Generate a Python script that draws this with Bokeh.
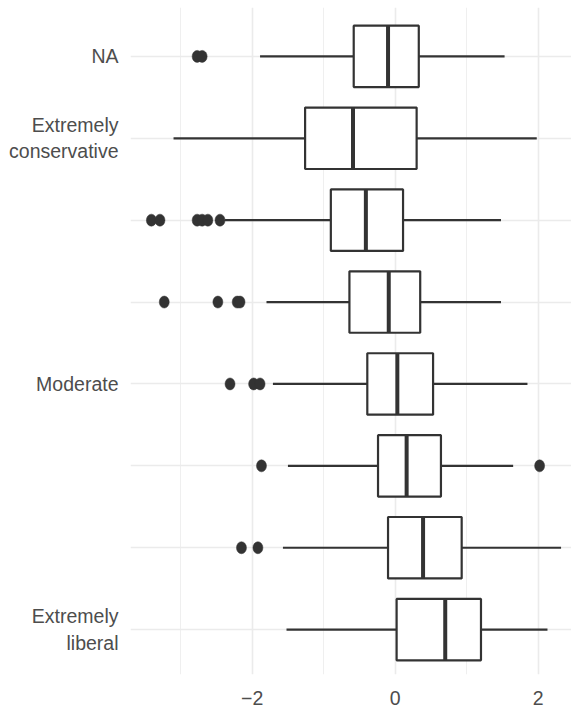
from bokeh.plotting import figure
from bokeh.models import FixedTicker, ColumnDataSource, Range1d
from bokeh.embed import file_html
from bokeh.resources import INLINE

# ---- data (bottom to top) ----
categories = ["Extremely liberal", "Liberal", "Slightly liberal", "Moderate",
              "Slightly conservative", "Conservative", "Extremely conservative", "NA"]
y_tick_labels = ["Extremely\nliberal", "", "", "Moderate", "", "", "Extremely\nconservative", "NA"]
whisker_low = [-1.52, -1.57, -1.50, -1.71, -1.80, -2.38, -3.10, -1.89]
q1 = [0.02, -0.10, -0.24, -0.39, -0.64, -0.90, -1.26, -0.58]
median = [0.70, 0.39, 0.16, 0.03, -0.09, -0.41, -0.59, -0.10]
q3 = [1.20, 0.93, 0.64, 0.53, 0.35, 0.11, 0.30, 0.33]
whisker_high = [2.13, 2.32, 1.65, 1.85, 1.48, 1.48, 1.98, 1.53]
outliers = [
    [],
    [-2.15, -1.92],
    [-1.87, 2.02],
    [-2.31, -1.98, -1.89],
    [-3.23, -2.48, -2.21, -2.17],
    [-3.41, -3.29, -2.77, -2.70, -2.62, -2.45],
    [],
    [-2.77, -2.70],
]
x_ticks = [-2, 0, 2]
x_tick_labels = ["\u22122", "0", "2"]
x_minor = [-3, -1, 1]

ypos = list(range(1, len(categories) + 1))
half = 0.375

p = figure(width=571, height=707, output_backend="svg", toolbar_location=None,
           x_range=Range1d(-3.702, 2.466), y_range=Range1d(0.452, 8.597),
           min_border_left=130, min_border_right=0, min_border_top=7, min_border_bottom=31)
p.outline_line_color = None
p.background_fill_color = "white"
p.border_fill_color = "white"

# axes
for ax in (p.xaxis[0], p.yaxis[0]):
    ax.axis_line_color = None
    ax.major_tick_line_color = None
    ax.minor_tick_line_color = None
    ax.major_tick_out = 0
    ax.major_tick_in = 0
    ax.minor_tick_out = 0
    ax.minor_tick_in = 0
    ax.major_label_text_color = "#4D4D4D"
    ax.major_label_text_font = "Liberation Sans"
    ax.major_label_text_font_size = "19.5px"

p.xaxis.ticker = FixedTicker(ticks=x_ticks, minor_ticks=x_minor)
p.xaxis.major_label_overrides = {t: l for t, l in zip(x_ticks, x_tick_labels)}
p.xaxis.major_label_standoff = 16

p.yaxis.ticker = FixedTicker(ticks=ypos)
p.yaxis.major_label_overrides = {y: l for y, l in zip(ypos, y_tick_labels)}
p.yaxis.major_label_standoff = 12

# grid
p.xgrid.grid_line_color = "#EBEBEB"
p.xgrid.grid_line_width = 1.6
p.xgrid.minor_grid_line_color = "#EBEBEB"
p.xgrid.minor_grid_line_width = 0.8
p.ygrid.grid_line_color = "#EBEBEB"
p.ygrid.grid_line_width = 1.6

src = ColumnDataSource(dict(
    y=ypos, lo=whisker_low, q1=q1, med=median, q3=q3, hi=whisker_high,
    bot=[y - half for y in ypos], top=[y + half for y in ypos],
))

col = "#333333"
p.segment(x0="lo", y0="y", x1="q1", y1="y", source=src, line_color=col, line_width=2.2)
p.segment(x0="q3", y0="y", x1="hi", y1="y", source=src, line_color=col, line_width=2.2)
p.quad(left="q1", right="q3", bottom="bot", top="top", source=src,
       fill_color="white", line_color=col, line_width=2.2)
p.segment(x0="med", y0="bot", x1="med", y1="top", source=src, line_color=col, line_width=4)

ox, oy = [], []
for y, vals in zip(ypos, outliers):
    for v in vals:
        ox.append(v)
        oy.append(y)
p.ellipse(x=ox, y=oy, width=10, height=12, width_units="screen", height_units="screen",
          fill_color=col, line_color=col, line_width=0.5)

open("out.html", "w").write(file_html(p, INLINE))
